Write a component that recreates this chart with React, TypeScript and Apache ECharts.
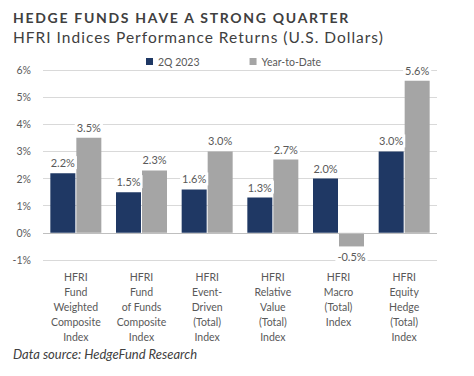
import React, { useEffect, useRef } from "react";
import * as echarts from "echarts";

const categories: string[][] = [
  ["HFRI", "Fund", "Weighted", "Composite", "Index"],
  ["HFRI", "Fund", "of Funds", "Composite", "Index"],
  ["HFRI", "Event-", "Driven", "(Total)", "Index"],
  ["HFRI", "Relative", "Value", "(Total)", "Index"],
  ["HFRI", "Macro", "(Total)", "Index"],
  ["HFRI", "Equity", "Hedge", "(Total)", "Index"],
];
const quarterValues = [2.2, 1.5, 1.6, 1.3, 2.0, 3.0];
const ytdValues = [3.5, 2.3, 3.0, 2.7, -0.5, 5.6];
const seriesNames = ["2Q 2023", "Year-to-Date"];
const titleText = "HEDGE FUNDS HAVE A STRONG QUARTER";
const subtitleText = "HFRI Indices Performance Returns (U.S. Dollars)";
const sourceText = "Data source: HedgeFund Research";

const FONT = "Lato, 'Liberation Sans', sans-serif";
const NAVY = "#1f3864";
const GREY = "#a5a5a5";
const TEXT = "#595959";

export default function App() {
  const ref = useRef<HTMLDivElement>(null);
  useEffect(() => {
    if (!ref.current) return;
    const el = ref.current;
    const chart = echarts.init(el, undefined, { renderer: "svg" });
    const applySpacing = () => {
      el.querySelectorAll("text").forEach((t) => {
        const s = t.textContent;
        if (s === titleText) t.setAttribute("letter-spacing", "1.7");
        else if (s === subtitleText) t.setAttribute("letter-spacing", "1.0");
      });
    };
    chart.on("finished", applySpacing);
    const mkData = (vals: number[]) =>
      vals.map((v) => ({
        value: v,
        label: { position: v < 0 ? "bottom" : "top" },
      }));
    const label = {
      show: true,
      formatter: (p: any) => `${Number(p.value).toFixed(1)}%`,
      color: TEXT,
      fontFamily: FONT,
      fontSize: 11,
      backgroundColor: "#ffffff",
      padding: [1, 2, 1, 2],
      distance: 4,
    };
    chart.setOption({
      animation: false,
      backgroundColor: "#ffffff",
      textStyle: { fontFamily: FONT },
      graphic: [
        {
          type: "text",
          left: 13,
          top: 10,
          style: {
            text: titleText,
            font: `bold 14px Lato, 'Liberation Sans', sans-serif`,
            fill: "#404040",
          },
        },
        {
          type: "text",
          left: 13,
          top: 29,
          style: {
            text: subtitleText,
            font: `15.5px Lato, 'Liberation Sans', sans-serif`,
            fill: "#404040",
          },
        },
        {
          type: "text",
          left: 13,
          top: 347,
          style: {
            text: sourceText,
            font: `italic 13px ${FONT}`,
            fill: "#404040",
          },
        },
      ],
      legend: {
        top: 51,
        left: 141,
        itemWidth: 7,
        itemHeight: 7,
        itemGap: 50,
        icon: "rect",
        textStyle: { color: TEXT, fontSize: 10.5, fontFamily: FONT },
        data: seriesNames,
      },
      grid: { left: 43, right: 37, top: 70, bottom: 116, containLabel: false },
      xAxis: {
        type: "category",
        data: categories.map((c) => c.join("\n")),
        axisLine: { show: false },
        axisTick: { show: false },
        axisLabel: {
          interval: 0,
          color: TEXT,
          fontSize: 10.5,
          fontFamily: FONT,
          lineHeight: 15,
          margin: 9,
          verticalAlign: "top",
        },
      },
      yAxis: {
        type: "value",
        min: -1,
        max: 6,
        interval: 1,
        axisLine: { show: false },
        axisTick: { show: false },
        axisLabel: {
          formatter: "{value}%",
          color: TEXT,
          fontSize: 10.5,
          fontFamily: FONT,
          margin: 12,
        },
        splitLine: { lineStyle: { color: "#d9d9d9", width: 1 } },
      },
      series: [
        {
          name: seriesNames[0],
          type: "bar",
          data: mkData(quarterValues),
          itemStyle: { color: NAVY },
          barWidth: 25,
          barGap: "4%",
          label,
          markLine: {
            silent: true,
            symbol: "none",
            label: { show: false },
            lineStyle: { color: "#bfbfbf", width: 1, type: "solid" },
            data: [{ yAxis: 0 }],
          },
          z: 3,
        },
        {
          name: seriesNames[1],
          type: "bar",
          data: mkData(ytdValues),
          itemStyle: { color: GREY },
          barWidth: 25,
          barGap: "4%",
          label,
          z: 3,
        },
      ],
    });
    applySpacing();
    const raf = requestAnimationFrame(applySpacing);
    return () => {
      cancelAnimationFrame(raf);
      chart.dispose();
    };
  }, []);
  return (
    <div
      ref={ref}
      style={{ position: "fixed", left: 0, top: 0, width: 474, height: 376 }}
    />
  );
}
